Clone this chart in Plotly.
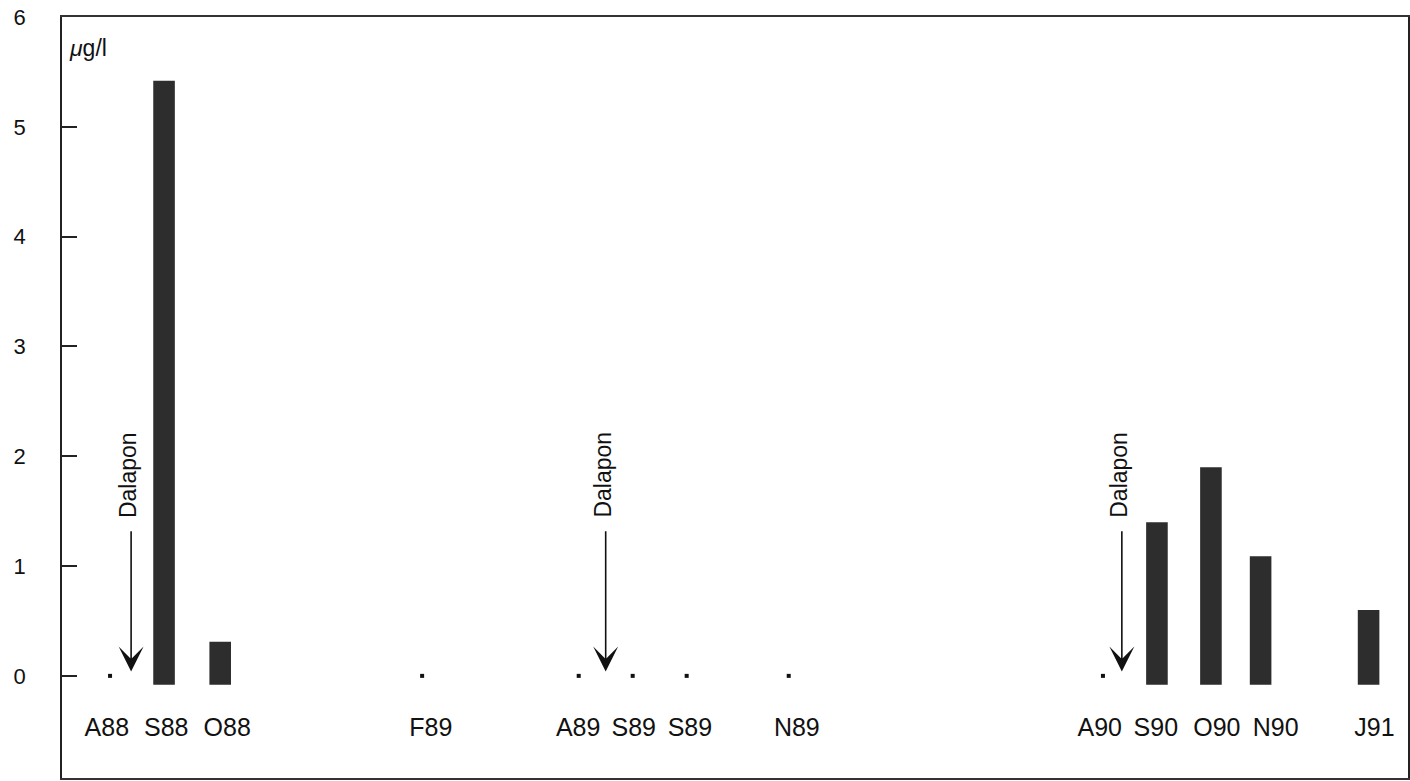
import plotly.graph_objects as go

# ---- data ----
samples = ["A88", "S88", "O88", "F89", "A89", "S89", "S89", "N89",
           "A90", "S90", "O90", "N90", "J91"]
slot = [0.89, 1.89, 2.93, 6.67, 9.57, 10.57, 11.57, 13.46,
        19.28, 20.28, 21.28, 22.2, 24.2]
label_slot = [0.83, 1.93, 3.06, 6.83, 9.56, 10.59, 11.63, 13.61,
              19.22, 20.26, 21.39, 22.48, 24.31]
conc = [0, 5.42, 0.31, 0, 0, 0, 0, 0, 0, 1.40, 1.90, 1.09, 0.60]
dalapon_slot = [1.28, 10.07, 19.63]
y_ticks = [0, 1, 2, 3, 4, 5, 6]

BAR_BASE = -0.08
LABEL_Y = -0.49
FONT = "Liberation Sans, Arial, Helvetica, sans-serif"

bx = [s for s, v in zip(slot, conc) if v > 0]
by = [v - BAR_BASE for v in conc if v > 0]
dx = [s for s, v in zip(slot, conc) if v == 0]
dy = [v for v in conc if v == 0]

fig = go.Figure()
fig.add_trace(go.Bar(x=bx, y=by, base=BAR_BASE, width=0.4,
                     marker=dict(color="#2d2d2d", line=dict(width=0)),
                     showlegend=False))
fig.add_trace(go.Scatter(x=dx, y=dy, mode="markers",
                         marker=dict(symbol="square", size=4, color="#111"),
                         showlegend=False))
fig.add_trace(go.Scatter(x=label_slot, y=[LABEL_Y] * len(label_slot),
                         mode="text", text=samples,
                         textposition="middle center",
                         textfont=dict(family=FONT, size=25, color="#111"),
                         showlegend=False))

annotations = []
for ax in dalapon_slot:
    annotations.append(dict(x=ax, y=0.04, ax=ax, ay=1.33, xref="x", yref="y",
                            axref="x", ayref="y", text="", showarrow=True,
                            arrowhead=3, arrowsize=2.6, arrowwidth=1.6,
                            arrowcolor="#111"))
    annotations.append(dict(x=ax, y=1.83, xref="x", yref="y", text="Dalapon",
                            textangle=-90, showarrow=False, xshift=-3,
                            font=dict(family=FONT, size=23, color="#111")))
annotations.append(dict(x=0.1, y=5.72, xref="x", yref="y",
                        text="<i>μ</i>g/l", showarrow=False, xanchor="left",
                        font=dict(family=FONT, size=23, color="#111")))

fig.update_layout(
    width=1410, height=781,
    margin=dict(l=62, r=2, t=17, b=3),
    paper_bgcolor="white", plot_bgcolor="white",
    annotations=annotations,
    font=dict(family=FONT, color="#111"),
    xaxis=dict(range=[0, 24.93], showgrid=False, zeroline=False,
               showticklabels=False, ticks="", showline=True,
               linecolor="#333", linewidth=1.5, mirror=True, fixedrange=True,
               automargin=False),
    yaxis=dict(range=[-0.93, 6], tickvals=y_ticks, showgrid=False,
               zeroline=False, ticks="inside", ticklen=15, tickwidth=1.5,
               tickcolor="#222", showline=True, linecolor="#222",
               linewidth=1.5, mirror=True, ticklabelstandoff=30,
               tickfont=dict(family=FONT, size=22, color="#111"),
               fixedrange=True, automargin=False),
)

fig.write_html(
    "out.html",
    config={"displayModeBar": False},
    post_script="document.body.style.margin='0';"
                "document.body.style.overflow='hidden';",
)
